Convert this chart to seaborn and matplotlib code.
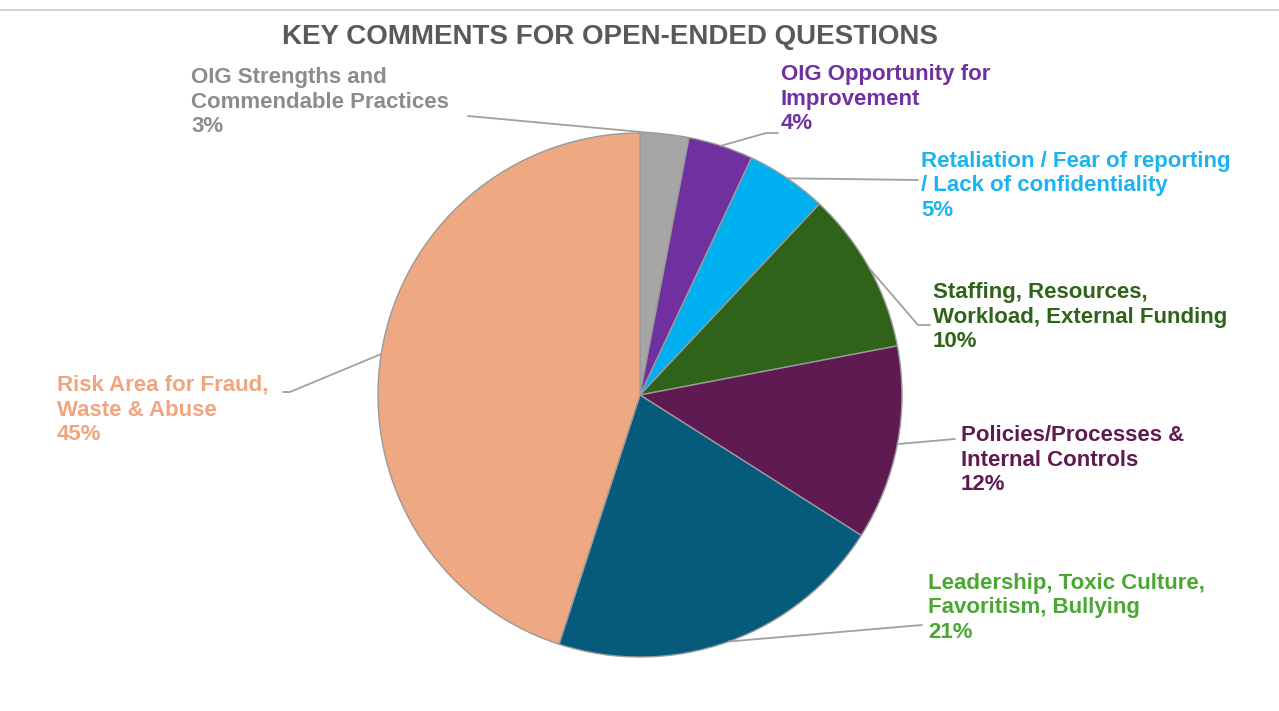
import matplotlib
matplotlib.use("Agg")
import matplotlib.pyplot as plt
import numpy as np
import seaborn as sns
from matplotlib.lines import Line2D

sns.set_theme(style="white")
plt.rcParams["font.family"] = ["Liberation Sans", "DejaVu Sans"]

# Share of comments per theme, clockwise from 12 o'clock
categories = [
    "OIG Strengths and\nCommendable Practices",
    "OIG Opportunity for\nImprovement",
    "Retaliation / Fear of reporting\n/ Lack of confidentiality",
    "Staffing, Resources,\nWorkload, External Funding",
    "Policies/Processes &\nInternal Controls",
    "Leadership, Toxic Culture,\nFavoritism, Bullying",
    "Risk Area for Fraud,\nWaste & Abuse",
]
shares = [3, 4, 5, 10, 12, 21, 45]
wedge_colors = ["#A6A6A6", "#7030A0", "#00B0F0", "#2E6319", "#5F1A52", "#065A7B", "#EEA882"]
label_colors = ["#8C8C8C", "#7030A0", "#1AB4F0", "#2E6319", "#5F1A52", "#4AA832", "#F0A57E"]

W, H = 1279, 711
fig = plt.figure(figsize=(W / 100, H / 100), dpi=100)
ax = fig.add_axes([0, 0, 1, 1])

cx, cy, R = 640, 395, 262

# pie drawn in a y-down pixel frame, so counterclock on the inverted axis runs clockwise
wedges, _ = ax.pie(
    shares, colors=wedge_colors, startangle=-90, counterclock=True,
    center=(cx, cy), radius=R, frame=True,
    wedgeprops=dict(edgecolor="#9A9A9A", linewidth=1.0),
)
ax.set_xlim(0, W)
ax.set_ylim(H, 0)
ax.axis("off")

# label layout: text anchor (left x, y of middle line), leader end points
label_pos = [(191, 102), (781, 99), (921, 186), (933, 317), (961, 460), (928, 608), (57, 410)]
leader_ends = [
    [(468, 116)],
    [(766, 133), (778, 133)],
    [(918, 180)],
    [(918, 325), (930, 325)],
    [(955, 439)],
    [(922, 625)],
    [(290, 392), (283, 392)],
]

cum = np.cumsum([0] + shares[:-1])
for i, (name, val) in enumerate(zip(categories, shares)):
    mid = 90 - (cum[i] + val / 2) * 3.6
    px = cx + R * np.cos(np.radians(mid))
    py = cy - R * np.sin(np.radians(mid))
    xs = [px] + [p[0] for p in leader_ends[i]]
    ys = [py] + [p[1] for p in leader_ends[i]]
    ax.plot(xs, ys, color="#A0A0A0", lw=1.3, zorder=1)
    lx, ly = label_pos[i]
    ax.text(lx, ly, f"{name}\n{val}%", color=label_colors[i], fontsize=16,
            fontweight="bold", ha="left", va="center", linespacing=1.22)

ax.text(610, 37, "KEY COMMENTS FOR OPEN-ENDED QUESTIONS", color="#595959",
        fontsize=20, fontweight="bold", ha="center", va="center")

fig.add_artist(Line2D([0, 1], [1 - 10 / H, 1 - 10 / H], color="#C8C8C8", lw=1.2,
                      transform=fig.transFigure))

fig.savefig("out.png", dpi=100, facecolor="white")
